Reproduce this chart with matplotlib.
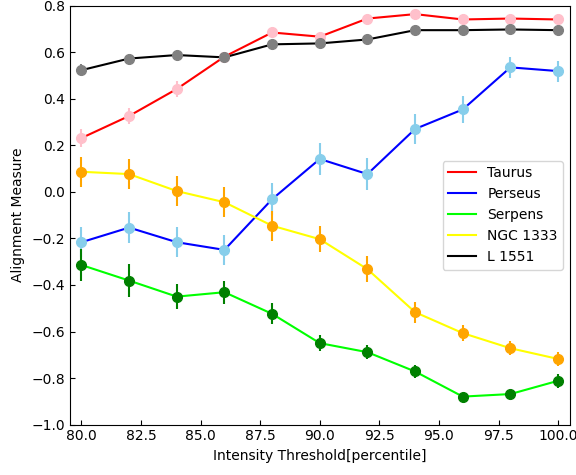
import numpy as np
import matplotlib.pyplot as plt

# Intensity thresholds [percentile]
thresh = [80, 82, 84, 86, 88, 90, 92, 94, 96, 98, 100]

# Alignment measure per cloud
taurus = [0.232, 0.327, 0.443, 0.582, 0.686, 0.668, 0.746, 0.765, 0.742, 0.746, 0.742]
taurus_err = [0.04, 0.035, 0.035, 0.02, 0.015, 0.015, 0.015, 0.015, 0.015, 0.015, 0.015]

perseus = [-0.216, -0.153, -0.216, -0.249, -0.031, 0.142, 0.077, 0.271, 0.355, 0.536, 0.520]
perseus_err = [0.065, 0.065, 0.065, 0.065, 0.07, 0.07, 0.07, 0.065, 0.06, 0.045, 0.045]

serpens = [-0.314, -0.381, -0.450, -0.431, -0.524, -0.650, -0.689, -0.772, -0.880, -0.869, -0.812]
serpens_err = [0.07, 0.07, 0.055, 0.05, 0.045, 0.035, 0.03, 0.03, 0.015, 0.015, 0.03]

ngc1333 = [0.087, 0.077, 0.004, -0.044, -0.145, -0.203, -0.332, -0.517, -0.607, -0.672, -0.718]
ngc1333_err = [0.065, 0.065, 0.065, 0.065, 0.065, 0.055, 0.055, 0.045, 0.035, 0.03, 0.03]

l1551 = [0.524, 0.574, 0.589, 0.579, 0.635, 0.639, 0.656, 0.696, 0.696, 0.699, 0.696]
l1551_err = [0.025, 0.02, 0.02, 0.02, 0.015, 0.015, 0.015, 0.015, 0.015, 0.015, 0.015]

fig = plt.figure(figsize=(5.76, 4.75), dpi=100)
ax = fig.add_axes([0.1207, 0.1063, 0.8689, 0.8811])

# lines (used for the legend)
ax.plot(thresh, taurus, color='red', lw=1.5, label='Taurus')
ax.plot(thresh, perseus, color='blue', lw=1.5, label='Perseus')
ax.plot(thresh, serpens, color='lime', lw=1.5, label='Serpens')
ax.plot(thresh, ngc1333, color='yellow', lw=1.5, label='NGC 1333')
ax.plot(thresh, l1551, color='black', lw=1.5, label='L 1551')

# points with error bars
ax.errorbar(thresh, taurus, yerr=taurus_err, fmt='o', color='pink', ms=7, elinewidth=1.5)
ax.errorbar(thresh, perseus, yerr=perseus_err, fmt='o', color='skyblue', ms=7, elinewidth=1.5)
ax.errorbar(thresh, serpens, yerr=serpens_err, fmt='o', color='green', ms=7, elinewidth=1.5)
ax.errorbar(thresh, ngc1333, yerr=ngc1333_err, fmt='o', color='orange', ms=7, elinewidth=1.5)
ax.errorbar(thresh, l1551, yerr=l1551_err, fmt='o', color='grey', ms=7, elinewidth=1.5)

ax.set_ylim(-1.0, 0.8)
ax.set_xlim(79.5, 100.5)
ax.tick_params(direction='in')
ax.set_xlabel('Intensity Threshold[percentile]')
ax.set_ylabel('Alignment Measure')
ax.legend(loc='center right')

fig.savefig('out.png', dpi=100)
